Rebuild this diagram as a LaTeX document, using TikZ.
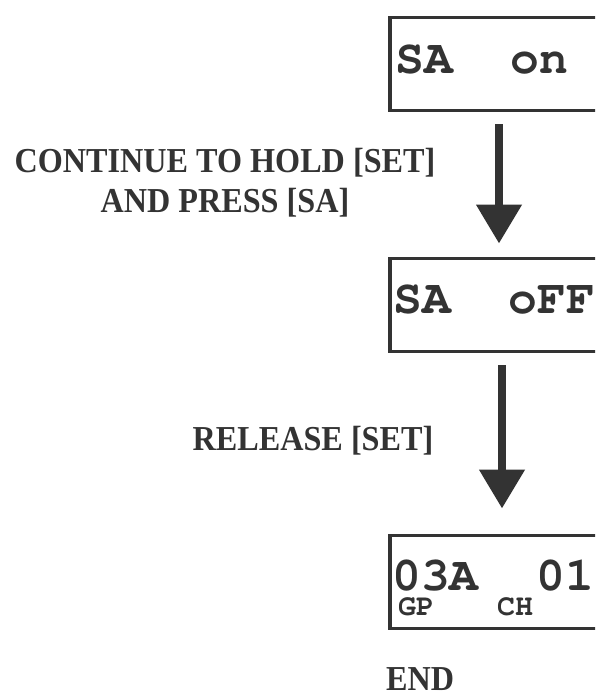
\documentclass[tikz,border=0pt]{standalone}
\usepackage{graphicx}
\usepackage{fontspec}
\setmainfont{Liberation Serif}
\newfontfamily\lcdfont{TeX Gyre Cursor}
\usetikzlibrary{arrows.meta,calc}
\definecolor{ink}{HTML}{333333}
\newcommand{\narrow}[1]{\scalebox{0.92}[1]{#1}}
\tikzset{
  lcdbox/.style={draw=ink, line width=3.5pt, anchor=north west, minimum width=240pt, minimum height=93pt, inner sep=0pt},
  lcdtext/.style={anchor=base west, inner sep=0pt, text=ink, font=\lcdfont\bfseries\fontsize{48}{48}\selectfont},
  lcdsmall/.style={anchor=base west, inner sep=0pt, text=ink, font=\lcdfont\bfseries\fontsize{30}{30}\selectfont},
  steplabel/.style={anchor=base, inner sep=0pt, text=ink, font=\bfseries\fontsize{35}{40}\selectfont, align=center},
  bigarrow/.style={draw=ink, line width=8pt, -{Triangle[width=44pt,length=39pt]}}
}
\begin{document}
\begin{tikzpicture}[x=1pt,y=1pt]
\useasboundingbox (0,0) rectangle (595,-691);
\clip (0,0) rectangle (595,-691);
% boxes
\node[lcdbox] (box1) at (388,-15.5) {};
\node[lcdbox] (box2) at (388,-256.5) {};
\node[lcdbox] (box3) at (388,-533.5) {};
% box texts
\node[lcdtext] (t1) at (395,-73) {SA\ \ on};
\node[lcdtext] (t2) at (393,-313) {SA\ \ oFF};
\node[lcdtext] (t3) at (392,-590) {03A\ \ 01};
\node[lcdsmall] (gp) at (398,-615) {GP};
\node[lcdsmall] (ch) at (497,-615) {CH};
% arrows
\draw[bigarrow] ($(box1.south west)+(111,-12)$) -- ($(box2.north west)+(111,13)$);
\draw[bigarrow] ($(box2.south west)+(114,-12)$) -- ($(box3.north west)+(114,25)$);
% labels
\node[steplabel] (l1) at (225,-212) {\narrow{CONTINUE TO HOLD [SET]}\\\narrow{AND PRESS [SA]}};
\node[steplabel] (l2) at (313,-450) {\narrow{RELEASE [SET]}};
\node[steplabel, anchor=base west] (l3) at (386,-690) {\narrow{END}};
\end{tikzpicture}
\end{document}
